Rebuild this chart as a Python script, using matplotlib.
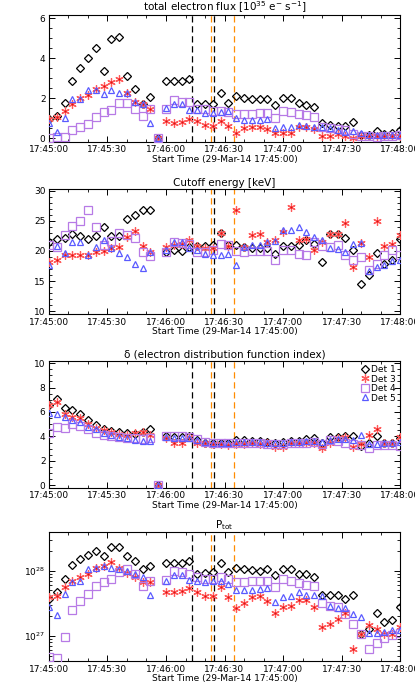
import numpy as np
import matplotlib
matplotlib.use("Agg")
import matplotlib.pyplot as plt
from matplotlib.ticker import MultipleLocator, FuncFormatter, LogLocator

# ---------------- data ----------------
t_sec = list(range(0, 181, 4))  # seconds after 17:45:00
nan = np.nan

flux_det1 = [0.95, 1.1, 1.75, 2.88, 3.53, 4.03, 4.5, 3.35, 4.95, 5.08, 3.12, 2.45, 1.7, 2.08,
             0.0,
             2.88, 2.85, 2.85, 2.97, 1.72, 1.72, 1.72, 2.28,
             1.75, 2.13, 2.03, 1.97, 1.97, 1.97, 1.68, 2.0, 2.03, 1.75, 1.67, 1.57, 0.75, 0.67,
             0.63, 0.6, 0.82, 0.17, 0.17, 0.35, 0.22, 0.25, 0.42]
flux_det3 = [0.95, 1.05, 1.37, 1.7, 2.0, 2.15, 2.47, 2.62, 2.83, 2.97, 2.25, 1.82, 1.7, 1.47,
             0.0,
             0.88, 0.78, 0.83, 0.97, 0.87, 0.67, 0.63, 0.87,
             0.62, 0.25, 0.5, 0.58, 0.58, 0.47, 0.28, 0.28, 0.28, 0.55, 0.55, 0.47, 0.13, 0.13,
             0.22, 0.13, 0.02, 0.12, 0.12, 0.1, 0.1, 0.1, 0.1]
flux_det4 = [0.03, 0.05, 0.08, 0.42, 0.55, 0.7, 1.08, 1.3, 1.42, 1.75, 1.75, 1.47, 1.12, 1.45,
             0.0,
             1.47, 1.92, 1.83, 1.83, 1.47, 1.45, 1.38, 1.38,
             1.33, 1.22, 1.22, 1.22, 1.25, 1.25, 1.0, 1.38, 1.3, 1.2, 1.15, 1.05, 0.58, 0.5,
             0.47, 0.42, 0.22, 0.13, 0.13, 0.08, 0.1, 0.1, 0.17]
flux_det5 = [0.75, 0.33, 1.0, 1.95, 1.95, 2.42, 2.42, 2.2, 2.42, 2.25, 2.25, 1.83, 1.7, 0.78,
             0.0,
             1.5, 1.72, 1.7, 1.42, 1.42, 1.25, 1.25, 1.3,
             1.37, 1.03, 0.92, 0.92, 0.92, 0.95, 0.5, 0.55, 0.55, 0.67, 0.63, 0.58, 0.55, 0.53,
             0.42, 0.33, 0.38, 0.25, 0.17, 0.15, 0.15, 0.15, 0.15]

cut_det1 = [21.5, 22.0, 22.2, 22.85, 22.5, 21.9, 22.5, 23.9, 22.4, 22.5, 25.3, 26.0, 26.85, 26.8,
            nan,
            19.85, 20.1, 20.05, 20.65, 20.8, 20.75, 20.9, 23.0,
            20.9, 20.9, 20.65, 20.5, 20.5, 20.5, 19.45, 20.75, 20.8, 20.9, 21.85, 21.15, 18.1, 22.8,
            22.8, 22.15, 20.1, 14.5, 16.0, 19.7, 17.8, 18.5, 22.0]
cut_det3 = [18.2, 18.45, 19.3, 19.4, 19.4, 19.3, 19.85, 19.95, 20.4, 20.6, 22.3, 23.3, 20.75, 19.85,
            nan,
            20.7, 20.9, 21.2, 21.75, 20.75, 20.5, 20.4, 23.0,
            20.8, 26.7, 20.7, 22.6, 22.75, 21.4, 21.75, 23.2, 27.2, 21.75, 22.0, 20.1, 21.4, 22.8,
            22.8, 24.65, 17.4, 21.3, 19.0, 24.9, 20.8, 21.2, 22.7]
cut_det4 = [21.0, 20.7, 22.7, 24.2, 24.9, 26.7, 23.95, 21.0, 21.6, 23.0, 22.7, 22.1, 19.8, 19.2,
            nan,
            19.85, 21.4, 21.3, 21.2, 19.85, 19.85, 20.1, 21.2,
            21.0, 19.95, 19.85, 20.0, 20.0, 20.0, 18.45, 20.1, 20.2, 19.55, 19.4, 21.4, 20.75, 20.7,
            21.0, 19.3, 18.5, 19.0, 16.8, 17.9, 19.3, 20.2, 19.3]
cut_det5 = [17.6, 20.8, 19.7, 21.5, 21.5, 19.3, 20.65, 21.75, 20.4, 19.7, 19.0, 17.8, 17.25, 19.85,
            nan,
            20.1, 21.4, 21.4, 20.4, 20.2, 19.45, 19.3, 19.3,
            19.45, 17.6, 20.65, 20.9, 20.9, 21.4, 21.6, 23.4, 23.4, 23.95, 23.1, 22.3, 21.75, 20.4,
            20.3, 19.85, 21.2, 21.3, 16.65, 17.4, 17.6, 18.3, 18.45]

delta_det1 = [6.55, 7.07, 6.3, 6.16, 5.84, 5.34, 4.93, 4.6, 4.47, 4.33, 4.3, 4.19, 4.33, 4.6,
              0.0,
              4.05, 3.97, 3.97, 4.03, 3.7, 3.5, 3.48, 3.48,
              3.42, 3.7, 3.7, 3.64, 3.62, 3.56, 3.48, 3.56, 3.62, 3.64, 3.75, 3.84, 3.5, 3.97,
              3.97, 4.03, 4.03, 3.23, 3.5, 4.03, 3.5, 3.5, 3.9]
delta_det3 = [6.58, 6.85, 5.8, 5.6, 5.48, 5.0, 4.7, 4.5, 4.4, 4.2, 4.1, 4.25, 4.33, 4.1,
              0.0,
              3.9, 3.42, 3.42, 3.97, 3.5, 3.42, 3.34, 3.34,
              3.3, 3.34, 3.34, 3.5, 3.34, 3.42, 3.15, 3.15, 3.5, 3.42, 3.5, 3.5, 3.07, 3.42,
              3.84, 3.97, 3.15, 3.4, 4.1, 4.6, 3.5, 3.5, 3.97]
delta_det4 = [4.3, 4.8, 4.66, 5.0, 4.88, 4.6, 4.3, 4.1, 4.05, 3.97, 3.9, 3.84, 3.78, 3.84,
              0.0,
              4.05, 4.03, 4.03, 3.97, 3.75, 3.56, 3.5, 3.5,
              3.45, 3.42, 3.45, 3.45, 3.42, 3.4, 3.4, 3.4, 3.42, 3.45, 3.5, 3.55, 3.4, 3.7,
              3.65, 3.42, 3.34, 3.3, 3.07, 3.3, 3.3, 3.3, 3.25]
delta_det5 = [5.9, 5.8, 5.55, 5.35, 5.2, 4.8, 4.6, 4.25, 4.1, 3.97, 3.84, 3.7, 3.62, 3.62,
              0.0,
              3.97, 3.9, 3.9, 3.9, 3.7, 3.55, 3.5, 3.5,
              3.5, 3.55, 3.55, 3.55, 3.55, 3.5, 3.5, 3.5, 3.55, 3.55, 3.6, 3.6, 3.55, 3.7,
              3.8, 3.8, 3.7, 4.1, 3.4, 3.4, 3.5, 3.5, 3.55]

# P_tot in units of 1e27
ptot_det1 = [3.72, 4.79, 7.41, 12.3, 15.1, 17.4, 20.4, 16.6, 22.9, 23.4, 17.0, 14.1, 10.5, 11.7,
             nan,
             13.2, 13.2, 13.2, 14.1, 8.9, 9.1, 9.5, 13.2,
             9.5, 11.0, 10.7, 10.2, 10.0, 10.5, 8.5, 10.5, 10.7, 8.9, 8.9, 8.1, 4.2, 4.2,
             4.2, 3.7, 4.2, 1.07, 1.29, 2.24, 1.62, 1.78, 2.75]
ptot_det3 = [3.98, 4.17, 5.62, 6.92, 7.94, 8.91, 10.96, 12.0, 13.5, 11.2, 9.12, 7.94, 6.76, 6.76,
             nan,
             4.79, 4.68, 4.9, 5.5, 4.79, 4.17, 4.17, 5.62,
             3.98, 2.69, 3.16, 3.98, 4.07, 3.39, 2.29, 2.75, 2.88, 3.55, 3.55, 2.75, 1.38, 1.55,
             1.82, 2.29, 0.63, 1.07, 1.48, 1.29, 1.07, 1.07, 1.38]
ptot_det4 = [0.479, 0.457, 0.977, 2.51, 3.39, 4.37, 5.89, 6.76, 7.59, 9.55, 10.5, 8.91, 5.89, 7.08,
             nan,
             7.24, 9.77, 9.55, 8.91, 7.94, 7.59, 7.59, 8.13,
             7.59, 6.76, 6.76, 6.92, 6.92, 6.92, 5.62, 7.59, 7.08, 6.46, 6.03, 5.75, 3.16, 2.88,
             2.75, 2.19, 1.51, 1.07, 0.63, 0.79, 0.93, 1.05, 1.10]
ptot_det5 = [2.82, 2.09, 4.37, 6.76, 7.08, 10.5, 11.2, 11.7, 11.0, 10.5, 9.77, 8.91, 7.94, 4.27,
             nan,
             7.08, 8.71, 8.71, 7.24, 6.92, 6.76, 7.08, 7.08,
             6.31, 5.13, 5.13, 5.13, 5.25, 5.5, 3.31, 3.98, 4.07, 4.79, 4.27, 4.27, 4.17, 2.88,
             2.69, 2.69, 2.19, 1.95, 1.10, 1.12, 1.17, 1.23, 1.23]

black_lines = [73.2, 84.6]   # seconds after 17:45:00
orange_lines = [83.1, 95.0]

det_labels = ["Det 1", "Det 3", "Det 4", "Det 5"]
titles = [r"total electron flux [10$^{35}$ e$^{-}$ s$^{-1}$]",
          "Cutoff energy [keV]",
          "\u03b4 (electron distribution function index)",
          r"P$_{\mathregular{tot}}$"]
xlabel = "Start Time (29-Mar-14 17:45:00)"

# ---------------- style ----------------
plt.rcParams['font.family'] = ['DejaVu Sans']
plt.rcParams['font.size'] = 6.5
plt.rcParams['mathtext.fontset'] = 'dejavusans'

styles = [
    dict(marker='D', ms=4.1, mfc='none', mec='black', mew=0.9, ls='none'),
    dict(marker=(6, 2, 0), ms=6.0, mec='#ff5a5a', mew=0.9, ls='none'),
    dict(marker='s', ms=5.2, mfc='none', mec='#b77ae6', mew=0.9, ls='none'),
    dict(marker='^', ms=5.0, mfc='none', mec='#5a5aff', mew=0.9, ls='none'),
]

fig = plt.figure(figsize=(4.15, 6.92), dpi=100)
L, W = 0.118, 0.846
boxes = [(0.7952, 0.1831), (0.5458, 0.1806), (0.2952, 0.1836), (0.0444, 0.1864)]

panels = [
    [flux_det1, flux_det3, flux_det4, flux_det5],
    [cut_det1, cut_det3, cut_det4, cut_det5],
    [delta_det1, delta_det3, delta_det4, delta_det5],
    [np.array(ptot_det1) * 1e27, np.array(ptot_det3) * 1e27,
     np.array(ptot_det4) * 1e27, np.array(ptot_det5) * 1e27],
]

def tfmt(s, pos):
    s = int(round(s))
    return f"17:{45 + s // 60:02d}:{s % 60:02d}"

axes = []
for i, (b, h) in enumerate(boxes):
    ax = fig.add_axes([L, b, W, h])
    axes.append(ax)
    for j, series in enumerate(panels[i]):
        ax.plot(t_sec, series, label=det_labels[j], zorder=3, **styles[j])
        if j == 1:
            ax.plot(t_sec, series, ls='none', marker='o', ms=1.5, mfc='#e01010',
                    mec='none', zorder=3)
    for xv in black_lines:
        ax.axvline(xv, color='black', lw=0.9, ls=(0, (5, 3)), zorder=2)
    for xv in orange_lines:
        ax.axvline(xv, color='#ff8c00', lw=0.9, ls=(0, (5, 3)), zorder=2)
    ax.set_xlim(0, 180)
    ax.xaxis.set_major_locator(MultipleLocator(30))
    ax.xaxis.set_minor_locator(MultipleLocator(10))
    ax.xaxis.set_major_formatter(FuncFormatter(tfmt))
    ax.tick_params(which='both', direction='in', top=True, right=True, labelsize=6.5, pad=2.5)
    ax.tick_params(which='major', length=4, width=0.7)
    ax.tick_params(which='minor', length=2.2, width=0.6)
    for sp in ax.spines.values():
        sp.set_linewidth(0.8)
    ax.set_title(titles[i], fontsize=7.5, pad=2.5)
    ax.set_xlabel(xlabel, fontsize=6.5, labelpad=0.5)

axes[0].set_ylim(-0.17, 6.17)
axes[0].yaxis.set_major_locator(MultipleLocator(2))
axes[0].yaxis.set_minor_locator(MultipleLocator(0.5))

axes[1].set_ylim(9.5, 30.2)
axes[1].yaxis.set_major_locator(MultipleLocator(5))
axes[1].yaxis.set_minor_locator(MultipleLocator(1))

axes[2].set_ylim(-0.2, 10.2)
axes[2].yaxis.set_major_locator(MultipleLocator(2))
axes[2].yaxis.set_minor_locator(MultipleLocator(0.5))
h, l = axes[2].get_legend_handles_labels()
axes[2].legend(h[:4], l[:4], loc='upper right', frameon=False, fontsize=6.5,
               handletextpad=0.1, labelspacing=0.05, borderaxespad=0.3,
               handlelength=1.0, borderpad=0.2)

axes[3].set_yscale('log')
axes[3].set_ylim(4.1e26, 3.9e28)
axes[3].yaxis.set_major_locator(LogLocator(base=10))
axes[3].yaxis.set_minor_locator(LogLocator(base=10, subs=np.arange(2, 10)))

fig.savefig("out.png", dpi=100)
